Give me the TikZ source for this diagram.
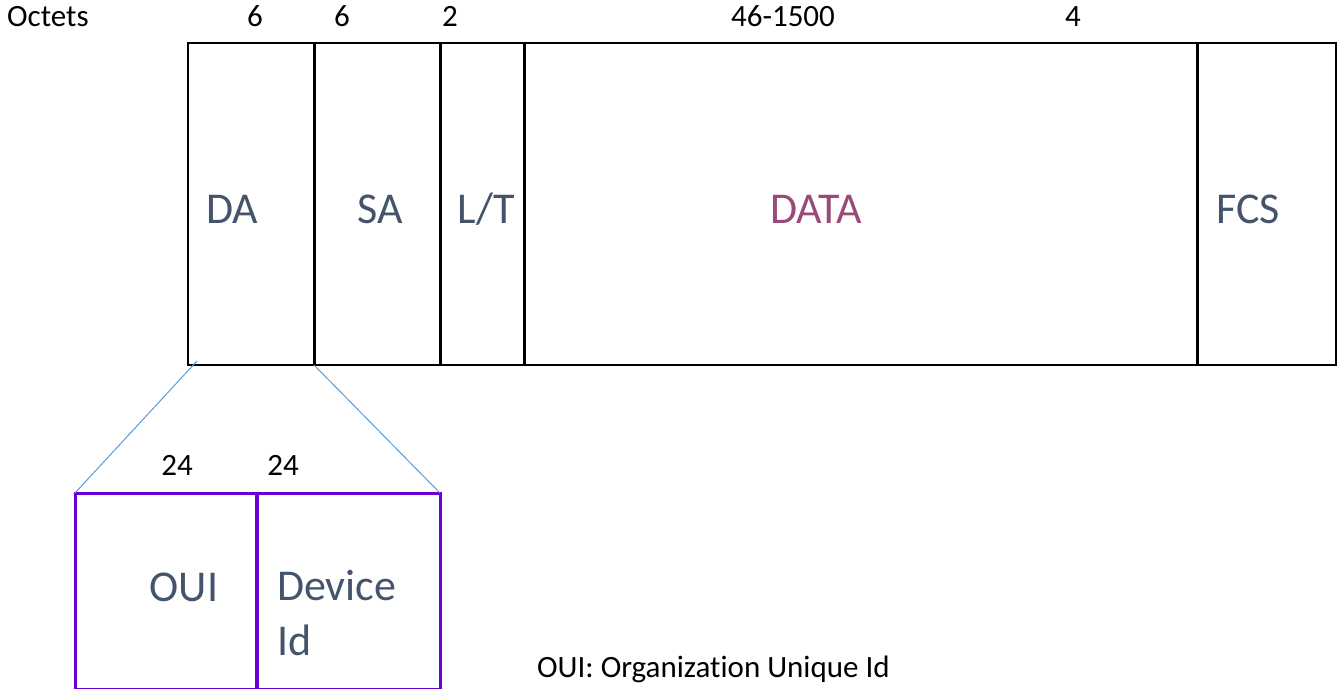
\documentclass[tikz,border=0pt]{standalone}
\usepackage{fontspec}
\setmainfont[Ligatures=NoCommon]{Carlito}
\definecolor{lbl}{HTML}{44546A}
\definecolor{datac}{HTML}{984B78}
\definecolor{ouiviolet}{HTML}{6A00D6}
\definecolor{zoomblue}{HTML}{5B9BD5}
\begin{document}
\begin{tikzpicture}[x=1pt,y=-1pt,
  cell/.style={inner sep=0pt, outer sep=0pt, anchor=north west, minimum height=322pt},
  subcell/.style={inner sep=0pt, outer sep=0pt, anchor=north west, minimum height=196pt},
  big/.style={font=\fontsize{44}{50}\selectfont, text=lbl, anchor=base, inner sep=0pt},
  small/.style={font=\fontsize{31}{36}\selectfont, anchor=base, inner sep=0pt},
  frame/.style={line width=2pt},
  divider/.style={line width=3pt},
  subframe/.style={draw=ouiviolet, line width=3pt},
  zoomline/.style={draw=zoomblue, line width=1pt}]
\useasboundingbox (0,0) rectangle (1338,688);

% Ethernet frame fields
\node[cell, minimum width=126pt] (da)   at (188,43)  {};
\node[cell, minimum width=126pt] (sa)   at (314,43)  {};
\node[cell, minimum width=84pt]  (lt)   at (440,43)  {};
\node[cell, minimum width=673pt] (data) at (524,43)  {};
\node[cell, minimum width=139pt] (fcs)  at (1197,43) {};

\draw[frame] (da.north west) rectangle (fcs.south east);
\draw[divider] (da.north east) -- (da.south east);
\draw[divider] (sa.north east) -- (sa.south east);
\draw[divider] (lt.north east) -- (lt.south east);
\draw[divider] (data.north east) -- (data.south east);

% field names
\node[big] (daText)   at (232,223)  {DA};
\node[big] (saText)   at (380,223)  {SA};
\node[big] (ltText)   at (486,223)  {L/T};
\node[big, text=datac] (dataText) at (816,223) {DATA};
\node[big] (fcsText)  at (1248,223) {FCS};

% field sizes in octets
\node[small, anchor=base west] (octets) at (7,27) {Octets};
\node[small] (nDA)   at (255,27)  {6};
\node[small] (nSA)   at (342,27)  {6};
\node[small] (nLT)   at (450,27)  {2};
\node[small] (nDATA) at (783,27)  {46-1500};
\node[small] (nFCS)  at (1073,27) {4};

% destination address broken down
\node[subcell, minimum width=182pt] (oui)   at (75,493)  {};
\node[subcell, minimum width=183pt] (devid) at (257,493) {};
\draw[subframe] (oui.north west) rectangle (devid.south east);
\draw[subframe, line width=4pt] (oui.north east) -- (oui.south east);

\draw[zoomline] ([shift={(9,-4)}]da.south west) -- (oui.north west);
\draw[zoomline] (da.south east) -- (devid.north east);

\node[small] (nOUI) at (177,475) {24};
\node[small] (nDev) at (283,475) {24};

\node[big] (ouiText) at (184,601) {OUI};
\node[big, anchor=base west] (devText1) at (277,600) {Device};
\node[big, anchor=base west] (devText2) at (277,655) {Id};

% legend
\node[small, anchor=base west] (legend) at (537,677) {OUI: Organization Unique Id};
\end{tikzpicture}
\end{document}
